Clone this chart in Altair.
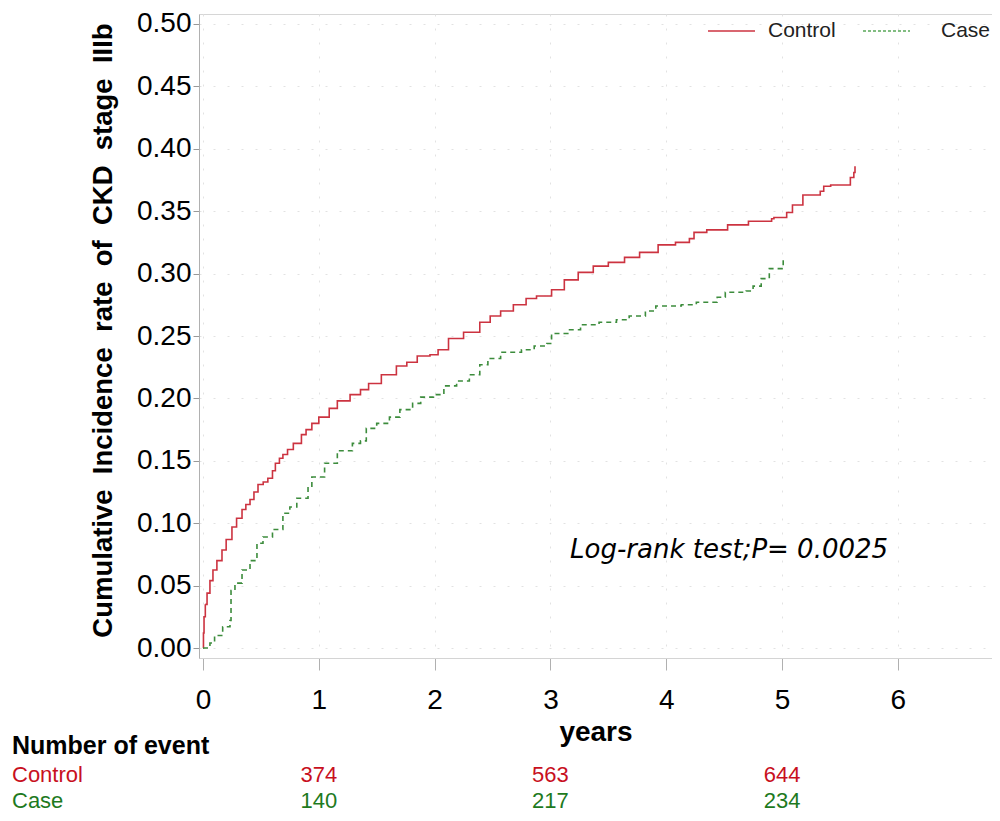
import altair as alt
import pandas as pd

# ---- data ----
control_t = [0, 0.004, 0.009, 0.02, 0.035, 0.06, 0.086, 0.12, 0.164, 0.2, 0.25, 0.29, 0.337,
             0.37, 0.406, 0.44, 0.475, 0.52, 0.56, 0.60, 0.625, 0.66, 0.69, 0.73, 0.78, 0.85,
             0.89, 0.94, 1.0, 1.09, 1.16, 1.27, 1.36, 1.43, 1.54, 1.67,
             1.76, 1.85, 1.96, 2.03, 2.12, 2.25, 2.39, 2.48, 2.57, 2.68, 2.79, 2.88, 3.01,
             3.12, 3.24, 3.37, 3.50, 3.64, 3.77, 3.93, 4.08, 4.20, 4.24, 4.35, 4.53, 4.71,
             4.91, 4.93, 5.04, 5.09, 5.18, 5.33, 5.36, 5.42, 5.59, 5.62, 5.63]
control_y = [0, 0.012, 0.025, 0.035, 0.044, 0.054, 0.0625, 0.070, 0.0785, 0.087, 0.097, 0.104, 0.111,
             0.115, 0.119, 0.125, 0.131, 0.133, 0.136, 0.142, 0.148, 0.152, 0.155, 0.159, 0.164, 0.171,
             0.175, 0.180, 0.185, 0.192, 0.198, 0.203, 0.207, 0.212, 0.219, 0.226,
             0.229, 0.234, 0.235, 0.239, 0.248, 0.253, 0.261, 0.266, 0.270, 0.275, 0.280, 0.282, 0.287,
             0.295, 0.301, 0.306, 0.309, 0.313, 0.317, 0.323, 0.325, 0.328, 0.333, 0.335, 0.339, 0.342,
             0.344, 0.345, 0.349, 0.355, 0.363, 0.366, 0.370, 0.371, 0.377, 0.381, 0.386]

case_t = [0, 0.06, 0.10, 0.17, 0.233, 0.242, 0.276, 0.337, 0.406, 0.466, 0.518, 0.60, 0.69,
          0.75, 0.81, 0.907, 0.94, 1.05, 1.16, 1.29, 1.36, 1.41, 1.50, 1.61, 1.70, 1.81, 1.88, 1.99,
          2.08, 2.19, 2.30, 2.39, 2.46, 2.57, 2.75, 2.86, 2.97, 3.01, 3.15, 3.26, 3.42, 3.57,
          3.68, 3.82, 3.91, 4.13, 4.26, 4.44, 4.51, 4.69, 4.75, 4.82, 4.89, 5.0, 5.01]
case_y = [0, 0.004, 0.010, 0.017, 0.022, 0.046, 0.052, 0.0625, 0.070, 0.084, 0.089, 0.095, 0.108,
          0.113, 0.120, 0.129, 0.137, 0.148, 0.158, 0.164, 0.166, 0.176, 0.180, 0.185, 0.191, 0.196, 0.201, 0.203,
          0.210, 0.214, 0.219, 0.227, 0.232, 0.237, 0.239, 0.242, 0.244, 0.252, 0.255, 0.259, 0.261, 0.263,
          0.266, 0.270, 0.274, 0.275, 0.277, 0.281, 0.285, 0.286, 0.290, 0.296, 0.304, 0.305, 0.313]

event_years = [1, 3, 5]
event_control = [374, 563, 644]
event_case = [140, 217, 234]

x_ticks = [0, 1, 2, 3, 4, 5, 6]
y_ticks = [0, 0.05, 0.10, 0.15, 0.20, 0.25, 0.30, 0.35, 0.40, 0.45, 0.50]

RED = "#cc3340"
GREEN = "#3c8c3c"
TXT_RED = "#c8101e"
TXT_GREEN = "#1e7a1e"
FONT = "Liberation Sans"
NB = "\u00a0"
Y_TITLE = (" " + NB).join(["Cumulative", "Incidence", "rate", "of", "CKD", "stage", "IIIb"])

df = pd.concat([
    pd.DataFrame({"t": control_t, "y": control_y, "group": "Control"}),
    pd.DataFrame({"t": case_t, "y": case_y, "group": "Case"}),
])
events = pd.DataFrame({"year": event_years, "control": event_control, "case": event_case})
one = pd.DataFrame({"a": [0]})

xs = alt.Scale(domain=[-0.0345, 6.813], nice=False, zero=False)
ys = alt.Scale(domain=[-0.008, 0.508], nice=False, zero=False)

curves = alt.Chart(df).mark_line(interpolate="step-after", strokeWidth=1.6).encode(
    x=alt.X("t:Q", scale=xs, axis=alt.Axis(
        values=x_ticks, format="d", title="years", labelFlush=False,
        labelFont=FONT, labelFontSize=28, labelColor="black", labelPadding=16,
        tickSize=12, tickColor="#b0b0b0", domainColor="#d4d4d4",
        grid=True, gridColor="#e2e2e2", gridDash=[2, 12],
        titleFont=FONT, titleFontSize=28, titleFontWeight="bold", titleColor="black",
        titlePadding=4)),
    y=alt.Y("y:Q", scale=ys, axis=alt.Axis(
        values=y_ticks, format=".2f", title=Y_TITLE,
        labelFont=FONT, labelFontSize=28, labelColor="black", labelPadding=2,
        tickSize=6, tickColor="#999999", domainColor="#b0b0b0",
        grid=True, gridColor="#e2e2e2", gridDash=[2, 12],
        titleFont=FONT, titleFontSize=27.5, titleFontWeight="bold", titleColor="black",
        titlePadding=19, titleY=316)),
    color=alt.Color("group:N", scale=alt.Scale(domain=["Control", "Case"], range=[RED, GREEN]), legend=None),
    strokeDash=alt.StrokeDash("group:N", scale=alt.Scale(domain=["Control", "Case"], range=[[1, 0], [5, 4]]), legend=None),
)

# legend (custom, top-right)
leg_red = alt.Chart(one).mark_rule(color=RED, strokeWidth=1.6).encode(
    x=alt.value(509), x2=alt.value(556), y=alt.value(17))
leg_red_t = alt.Chart(one).mark_text(text="Control", font=FONT, fontSize=21, align="left",
                                     baseline="middle", color="#222").encode(x=alt.value(569), y=alt.value(17))
leg_green = alt.Chart(one).mark_rule(color="#5aa85a", strokeWidth=1.4, strokeDash=[3, 2]).encode(
    x=alt.value(664), x2=alt.value(711), y=alt.value(17))
leg_green_t = alt.Chart(one).mark_text(text="Case", font=FONT, fontSize=21, align="left",
                                       baseline="middle", color="#222").encode(x=alt.value(742), y=alt.value(17))

annot = alt.Chart(one).mark_text(text="Log-rank test;P= 0.0025", font="DejaVu Sans", fontStyle="italic",
                                 fontSize=26, align="left", baseline="middle", color="black").encode(
    x=alt.value(371), y=alt.value(536))

# number of events table
lab_head = alt.Chart(one).mark_text(text="Number of event", font=FONT, fontSize=25, fontWeight="bold",
                                    align="left", baseline="middle", color="black").encode(
    x=alt.value(-187), y=alt.value(732))
lab_ctrl = alt.Chart(one).mark_text(text="Control", font=FONT, fontSize=22, align="left",
                                    baseline="middle", color=TXT_RED).encode(x=alt.value(-187), y=alt.value(761))
lab_case = alt.Chart(one).mark_text(text="Case", font=FONT, fontSize=22, align="left",
                                    baseline="middle", color=TXT_GREEN).encode(x=alt.value(-187), y=alt.value(787))
num_ctrl = alt.Chart(events).mark_text(font=FONT, fontSize=22, align="center", baseline="middle",
                                       color=TXT_RED).encode(
    x=alt.X("year:Q", scale=xs), y=alt.value(761), text="control:Q")
num_case = alt.Chart(events).mark_text(font=FONT, fontSize=22, align="center", baseline="middle",
                                       color=TXT_GREEN).encode(
    x=alt.X("year:Q", scale=xs), y=alt.value(787), text="case:Q")

chart = alt.layer(
    curves, leg_red, leg_red_t, leg_green, leg_green_t, annot,
    lab_head, lab_ctrl, lab_case, num_ctrl, num_case
).properties(
    width=793, height=644,
    autosize=alt.AutoSizeParams(type="none"),
    padding={"left": 191, "top": 6, "right": 0, "bottom": 155},
    background="white",
).configure_view(stroke="#d6d6d6")

chart.save("out.html", embed_options={"renderer": "svg", "actions": False})
